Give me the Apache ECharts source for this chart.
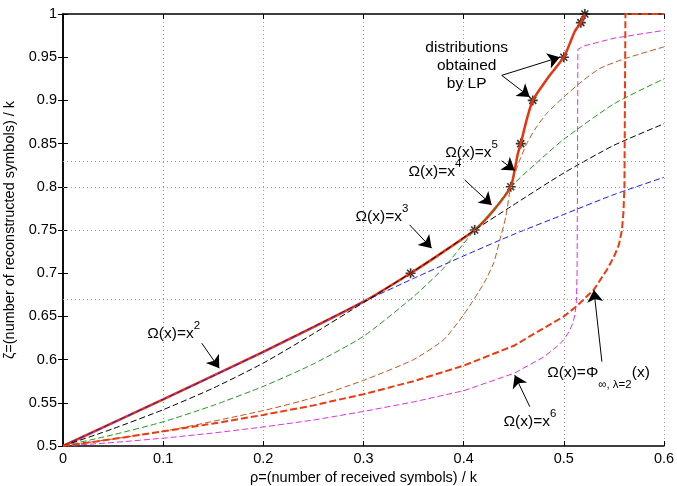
<!DOCTYPE html>
<html>
<head>
<meta charset="utf-8">
<script src="https://cdn.jsdelivr.net/npm/echarts@6/dist/echarts.min.js"></script>
<style>
html, body { margin: 0; padding: 0; background: #fff; }
#main { width: 677px; height: 486px; }
</style>
</head>
<body>
<div id="main"></div>
<script>
// curves: [rho, zeta]
var lpCurve = [[0,0.5],[0.1,0.554],[0.2,0.609],[0.3,0.667],[0.347,0.70],[0.38,0.725],[0.411,0.75],[0.43,0.773],[0.447,0.8],
  [0.451,0.82],[0.454,0.838],[0.457,0.85],[0.463,0.878],[0.469,0.9],[0.484,0.926],[0.5,0.95],[0.506,0.966],[0.511,0.98],[0.517,0.99],[0.521,1.0]];
var lpStars = [[0.347,0.70],[0.411,0.75],[0.447,0.80],[0.457,0.85],[0.469,0.90],[0.50,0.95],[0.517,0.99],[0.521,1.0]];
var omega2 = [[0,0.5],[0.05,0.527],[0.1,0.554],[0.15,0.581],[0.2,0.609],[0.25,0.638],[0.3,0.667],[0.35,0.694],[0.4,0.72],
  [0.45,0.745],[0.5,0.768],[0.55,0.791],[0.6,0.811]];
var omega3 = [[0,0.5],[0.05,0.52],[0.1,0.542],[0.15,0.567],[0.2,0.596],[0.25,0.63],[0.3,0.666],[0.347,0.70],[0.38,0.725],
  [0.411,0.75],[0.447,0.777],[0.5,0.816],[0.55,0.848],[0.6,0.873]];
var omega4 = [[0,0.5],[0.05,0.513],[0.1,0.528],[0.15,0.547],[0.2,0.569],[0.25,0.595],[0.3,0.627],[0.35,0.673],[0.38,0.706],
  [0.411,0.75],[0.43,0.773],[0.447,0.8],[0.475,0.83],[0.5,0.855],[0.55,0.896],[0.6,0.925]];
var omega5 = [[0,0.5],[0.1,0.517],[0.2,0.541],[0.25,0.556],[0.3,0.576],[0.35,0.6],[0.38,0.623],[0.4,0.652],[0.42,0.688],
  [0.43,0.712],[0.436,0.738],[0.442,0.765],[0.447,0.8],[0.455,0.828],[0.463,0.85],[0.472,0.868],[0.483,0.885],[0.5,0.904],
  [0.518,0.922],[0.536,0.937],[0.56,0.948],[0.6,0.962]];
var omega6 = [[0,0.5],[0.05,0.504],[0.1,0.509],[0.15,0.515],[0.2,0.522],[0.25,0.53],[0.3,0.54],[0.35,0.551],[0.4,0.564],
  [0.45,0.584],[0.48,0.603],[0.495,0.617],[0.5,0.623],[0.505,0.632],[0.509,0.642],[0.511,0.652],[0.5125,0.667],[0.5132,0.7],
  [0.5136,0.8],[0.514,0.959],[0.52,0.963],[0.55,0.972],[0.6,0.981]];
var phiCurve = [[0,0.5],[0.05,0.508],[0.1,0.517],[0.15,0.526],[0.2,0.536],[0.25,0.547],[0.3,0.56],[0.35,0.575],[0.4,0.593],
  [0.45,0.616],[0.5,0.65],[0.513,0.662],[0.53,0.681],[0.543,0.704],[0.55,0.719],[0.555,0.733],[0.558,0.75],[0.5595,0.77],
  [0.5605,0.8],[0.561,0.9],[0.5615,1.0],[0.6,1.0]];
var thresholds = [0.667, 0.75, 0.8, 0.833];

var font = 'Liberation Sans, Arial, Helvetica, sans-serif';

var chart = echarts.init(document.getElementById('main'));

function dashed(name, data, color, width, dash, smooth) {
  return {
    name: name, type: 'line', data: data, showSymbol: false, symbol: 'none',
    smooth: smooth,
    lineStyle: { color: color, width: width, type: dash }
  };
}

function lbl(text, rich) {
  return {
    show: true, position: 'right', distance: 0, color: '#000',
    fontFamily: font, fontSize: 15, formatter: text, rich: rich
  };
}

var supRich = {
  m: { fontSize: 15.5, fontFamily: font, color: '#000', verticalAlign: 'bottom', lineHeight: 22 },
  s: { fontSize: 11.5, fontFamily: font, color: '#000', verticalAlign: 'top', lineHeight: 22 }
};
var subRich = {
  m: { fontSize: 15.5, fontFamily: font, color: '#000', verticalAlign: 'top', lineHeight: 26 },
  b: { fontSize: 11.5, fontFamily: font, color: '#000', verticalAlign: 'bottom', lineHeight: 26 }
};

var notes = [
  { coord: [0.403, 0.9398], label: { show: true, position: 'inside', color: '#000', fontFamily: font, fontSize: 15.5,
      lineHeight: 18, align: 'center', formatter: 'distributions\nobtained\nby LP' } },
  { coord: [0.381, 0.8424], label: lbl('{m|Ω(x)=x}{s|5}', supRich) },
  { coord: [0.3444, 0.8204], label: lbl('{m|Ω(x)=x}{s|4}', supRich) },
  { coord: [0.2915, 0.7683], label: lbl('{m|Ω(x)=x}{s|3}', supRich) },
  { coord: [0.0836, 0.6333], label: lbl('{m|Ω(x)=x}{s|2}', supRich) },
  { coord: [0.4393, 0.531], label: lbl('{m|Ω(x)=x}{s|6}', supRich) },
  { coord: [0.4829, 0.5789], label: lbl('{m|Ω(x)=Φ}{b|∞, λ=2}{m|(x)}', subRich) }
];

var arrows = [
  [[0.438, 0.929], [0.496, 0.950]],
  [[0.438, 0.929], [0.466, 0.904]],
  [[0.438, 0.830], [0.451, 0.819]],
  [[0.401, 0.808], [0.428, 0.779]],
  [[0.346, 0.756], [0.368, 0.729]],
  [[0.1385, 0.619], [0.156, 0.590]],
  [[0.466, 0.5455], [0.451, 0.582]],
  [[0.538, 0.5976], [0.530, 0.6806]]
];

var option = {
  animation: false,
  backgroundColor: '#fff',
  grid: { left: 63, right: 13, top: 14, bottom: 40, outerBoundsMode: 'none', containLabel: false },
  xAxis: [
    {
      type: 'value', min: 0, max: 0.6, interval: 0.1, position: 'bottom',
      name: 'ρ=(number of received symbols) / k', nameLocation: 'middle', nameGap: 20,
      nameTextStyle: { fontFamily: font, fontSize: 14.5, color: '#000' },
      axisLine: { lineStyle: { color: '#000', width: 1.5 } },
      axisTick: { inside: true, length: 5, lineStyle: { color: '#000' } },
      axisLabel: { fontFamily: font, fontSize: 14.5, color: '#000', margin: 5 },
      splitLine: { show: true, lineStyle: { color: '#999', type: [1, 3], width: 1 } }
    },
    {
      type: 'value', min: 0, max: 0.6, interval: 0.1, position: 'top',
      axisLine: { lineStyle: { color: '#000', width: 1.5 } },
      axisTick: { inside: true, length: 5, lineStyle: { color: '#000' } },
      axisLabel: { show: false }, splitLine: { show: false }
    }
  ],
  yAxis: [
    {
      type: 'value', min: 0.5, max: 1, interval: 0.05, position: 'left',
      name: 'ζ=(number of reconstructed symbols) / k', nameLocation: 'middle', nameGap: 36,
      nameTextStyle: { fontFamily: font, fontSize: 14.5, color: '#000' },
      axisLine: { lineStyle: { color: '#000', width: 1.5 } },
      axisTick: { inside: true, length: 5, lineStyle: { color: '#000' } },
      axisLabel: { fontFamily: font, fontSize: 14.5, color: '#000', margin: 6 },
      splitLine: { show: false }
    },
    {
      type: 'value', min: 0.5, max: 1, interval: 0.05, position: 'right',
      axisLine: { lineStyle: { color: '#000', width: 1.5 } },
      axisTick: { inside: true, length: 5, lineStyle: { color: '#000' } },
      axisLabel: { show: false }, splitLine: { show: false }
    }
  ],
  series: [
    {
      type: 'line', data: [], silent: true,
      markLine: {
        silent: true, symbol: 'none', label: { show: false },
        lineStyle: { color: '#999', type: [1, 3], width: 1 },
        data: thresholds.map(function (v) { return { yAxis: v }; })
      }
    },
    {
      name: 'LP', type: 'line', data: lpCurve, showSymbol: false, symbol: 'none',
      smooth: 0.2,
      lineStyle: { color: '#e8340e', width: 2.5 }
    },
    dashed('x2', omega2, '#1a1aff', 1, [6, 3], 0.2),
    dashed('x3', omega3, '#000000', 1, [6, 3], 0.2),
    dashed('x4', omega4, '#1d9a1d', 1, [6, 3], 0.2),
    dashed('x5', omega5, '#c0541e', 1, [6, 3], 0.2),
    dashed('x6', omega6, '#e030e0', 1, [6, 3], false),
    dashed('phi', phiCurve, '#ee3a10', 2, [7, 3], false),
    {
      name: 'stars', type: 'scatter', data: lpStars, symbolSize: 10,
      symbol: 'path://M0,-6 L0,6 M-6,0 L6,0 M-4.2,-4.2 L4.2,4.2 M-4.2,4.2 L4.2,-4.2',
      itemStyle: { color: 'transparent', borderColor: '#000', borderWidth: 1.6 }
    },
    {
      type: 'line', data: [], silent: true,
      markLine: {
        silent: true, symbol: ['none', 'arrow'], symbolSize: 12, label: { show: false },
        lineStyle: { color: '#000', width: 1, type: 'solid' },
        data: arrows.map(function (a) { return [{ coord: a[0] }, { coord: a[1] }]; })
      },
      markPoint: {
        silent: true, symbol: 'circle', symbolSize: 1,
        itemStyle: { color: 'transparent' },
        data: notes
      }
    }
  ]
};

chart.setOption(option);
</script>
</body>
</html>
